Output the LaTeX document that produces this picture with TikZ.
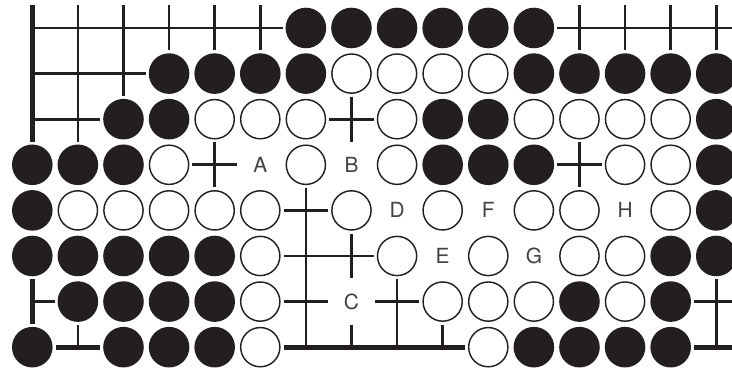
\documentclass[tikz,border=0pt]{standalone}
\usepackage{fontspec}
\setsansfont{TeX Gyre Heros}
\definecolor{ink}{HTML}{231F20}
\begin{document}
\begin{tikzpicture}[x=1cm,y=1cm,
  gline/.style={draw=ink, line width=1.7pt},
  edgeline/.style={draw=ink, line width=3.1pt},
  cellw/.style={rectangle, fill=white, minimum size=1.02cm, inner sep=0pt},
  blk/.style={cellw, path picture={\fill[ink] (path picture bounding box.center) circle (0.445);}},
  wht/.style={cellw, path picture={\draw[ink, line width=0.9pt] (path picture bounding box.center) circle (0.43);}},
  lbl/.style={cellw, text=ink!85, font=\sffamily\fontsize{13}{15}\selectfont}]
\useasboundingbox (0.292,0.5) rectangle (16.345,8.614);
\draw[gline, step=1] (1,1) grid (16.345,8.5);
\draw[edgeline] (1,8.5) -- (1,1) -- (16.345,1);
% row 1
\node[blk] (s7-1) at (7,8) {}; \node[blk] (s8-1) at (8,8) {}; \node[blk] (s9-1) at (9,8) {};
\node[blk] (s10-1) at (10,8) {}; \node[blk] (s11-1) at (11,8) {}; \node[blk] (s12-1) at (12,8) {};
% row 2
\node[blk] (s4-2) at (4,7) {}; \node[blk] (s5-2) at (5,7) {}; \node[blk] (s6-2) at (6,7) {}; \node[blk] (s7-2) at (7,7) {};
\node[wht] (s8-2) at (8,7) {}; \node[wht] (s9-2) at (9,7) {}; \node[wht] (s10-2) at (10,7) {}; \node[wht] (s11-2) at (11,7) {};
\node[blk] (s12-2) at (12,7) {}; \node[blk] (s13-2) at (13,7) {}; \node[blk] (s14-2) at (14,7) {};
\node[blk] (s15-2) at (15,7) {}; \node[blk] (s16-2) at (16,7) {};
% row 3
\node[blk] (s3-3) at (3,6) {}; \node[blk] (s4-3) at (4,6) {};
\node[wht] (s5-3) at (5,6) {}; \node[wht] (s6-3) at (6,6) {}; \node[wht] (s7-3) at (7,6) {}; \node[wht] (s9-3) at (9,6) {};
\node[blk] (s10-3) at (10,6) {}; \node[blk] (s11-3) at (11,6) {};
\node[wht] (s12-3) at (12,6) {}; \node[wht] (s13-3) at (13,6) {}; \node[wht] (s14-3) at (14,6) {}; \node[wht] (s15-3) at (15,6) {};
\node[blk] (s16-3) at (16,6) {};
% row 4
\node[blk] (s1-4) at (1,5) {}; \node[blk] (s2-4) at (2,5) {}; \node[blk] (s3-4) at (3,5) {};
\node[wht] (s4-4) at (4,5) {}; \node[lbl] (A) at (6,5) {A}; \node[wht] (s7-4) at (7,5) {};
\node[lbl] (B) at (8,5) {B}; \node[wht] (s9-4) at (9,5) {};
\node[blk] (s10-4) at (10,5) {}; \node[blk] (s11-4) at (11,5) {}; \node[blk] (s12-4) at (12,5) {};
\node[wht] (s14-4) at (14,5) {}; \node[wht] (s15-4) at (15,5) {}; \node[blk] (s16-4) at (16,5) {};
% row 5
\node[blk] (s1-5) at (1,4) {};
\node[wht] (s2-5) at (2,4) {}; \node[wht] (s3-5) at (3,4) {}; \node[wht] (s4-5) at (4,4) {};
\node[wht] (s5-5) at (5,4) {}; \node[wht] (s6-5) at (6,4) {}; \node[wht] (s8-5) at (8,4) {};
\node[lbl] (D) at (9,4) {D}; \node[wht] (s10-5) at (10,4) {}; \node[lbl] (F) at (11,4) {F};
\node[wht] (s12-5) at (12,4) {}; \node[wht] (s13-5) at (13,4) {}; \node[lbl] (H) at (14,4) {H};
\node[wht] (s15-5) at (15,4) {}; \node[blk] (s16-5) at (16,4) {};
% row 6
\node[blk] (s1-6) at (1,3) {}; \node[blk] (s2-6) at (2,3) {}; \node[blk] (s3-6) at (3,3) {};
\node[blk] (s4-6) at (4,3) {}; \node[blk] (s5-6) at (5,3) {};
\node[wht] (s6-6) at (6,3) {}; \node[wht] (s9-6) at (9,3) {}; \node[lbl] (E) at (10,3) {E};
\node[wht] (s11-6) at (11,3) {}; \node[lbl] (G) at (12,3) {G};
\node[wht] (s13-6) at (13,3) {}; \node[wht] (s14-6) at (14,3) {};
\node[blk] (s15-6) at (15,3) {}; \node[blk] (s16-6) at (16,3) {};
% row 7
\node[blk] (s2-7) at (2,2) {}; \node[blk] (s3-7) at (3,2) {}; \node[blk] (s4-7) at (4,2) {}; \node[blk] (s5-7) at (5,2) {};
\node[wht] (s6-7) at (6,2) {}; \node[lbl] (C) at (8,2) {C};
\node[wht] (s10-7) at (10,2) {}; \node[wht] (s11-7) at (11,2) {}; \node[wht] (s12-7) at (12,2) {};
\node[blk] (s13-7) at (13,2) {}; \node[wht] (s14-7) at (14,2) {}; \node[blk] (s15-7) at (15,2) {};
% row 8
\node[blk] (s1-8) at (1,1) {}; \node[blk] (s3-8) at (3,1) {}; \node[blk] (s4-8) at (4,1) {}; \node[blk] (s5-8) at (5,1) {};
\node[wht] (s6-8) at (6,1) {}; \node[wht] (s11-8) at (11,1) {};
\node[blk] (s12-8) at (12,1) {}; \node[blk] (s13-8) at (13,1) {}; \node[blk] (s14-8) at (14,1) {}; \node[blk] (s15-8) at (15,1) {};
\end{tikzpicture}
\end{document}
